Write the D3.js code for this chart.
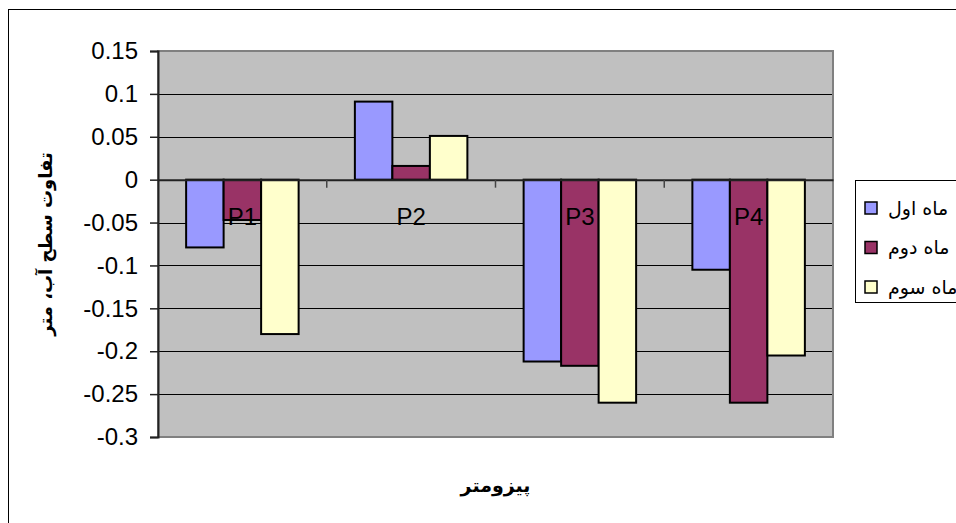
<!DOCTYPE html>
<html>
<head>
<meta charset="utf-8">
<script src="https://cdn.jsdelivr.net/npm/d3@7"></script>
<style>
  html, body { margin: 0; padding: 0; background: #fff; }
  svg { display: block; }
  text { font-family: "Liberation Sans", Arial, "DejaVu Sans", sans-serif; }
</style>
</head>
<body>
<svg id="chart" width="956" height="523"></svg>
<script>
// Piezometer categories and monthly water-level differences (m)
const categories = ["P1", "P2", "P3", "P4"];
const seriesNames = ["ماه اول", "ماه دوم", "ماه سوم"];
const month1 = [-0.079, 0.091, -0.212, -0.105];
const month2 = [-0.047, 0.016, -0.217, -0.26];
const month3 = [-0.18, 0.051, -0.26, -0.205];
const yTicks = [0.15, 0.1, 0.05, 0, -0.05, -0.1, -0.15, -0.2, -0.25, -0.3];
const yTitle = "تفاوت سطح آب، متر";
const xTitle = "پیزومتر";

const seriesValues = [month1, month2, month3];
const colors = ["#9999FF", "#993366", "#FFFFCC"];

const svg = d3.select("#chart");

// Outer chart frame
svg.append("rect")
  .attr("x", 8.5).attr("y", 9.5)
  .attr("width", 1000).attr("height", 1000)
  .attr("fill", "#fff").attr("stroke", "#000").attr("stroke-width", 1);

const plot = { left: 158, top: 51, right: 833, bottom: 437 };

const y = d3.scaleLinear().domain([-0.3, 0.15]).range([plot.bottom, plot.top]);
const x0 = d3.scaleBand().domain(categories).range([plot.left, plot.right]).paddingInner(0).paddingOuter(0);
// bar width : gap = 1 : 1.5  -> 3 bars take 3/4.5 of the band
const groupPad = 0.75 / 4.5;
const x1 = d3.scaleBand().domain(d3.range(seriesNames.length))
  .range([x0.bandwidth() * groupPad, x0.bandwidth() * (1 - groupPad)]).padding(0);

// Plot background
svg.append("rect")
  .attr("x", plot.left).attr("y", plot.top)
  .attr("width", plot.right - plot.left).attr("height", plot.bottom - plot.top)
  .attr("fill", "#C0C0C0");

// Horizontal gridlines
svg.append("g")
  .selectAll("line")
  .data(yTicks)
  .join("line")
  .attr("x1", plot.left).attr("x2", plot.right)
  .attr("y1", d => Math.round(y(d)) + 0.5).attr("y2", d => Math.round(y(d)) + 0.5)
  .attr("stroke", "#000").attr("stroke-width", 1);

// Plot area border (grey)
svg.append("rect")
  .attr("x", plot.left).attr("y", plot.top)
  .attr("width", plot.right - plot.left).attr("height", plot.bottom - plot.top)
  .attr("fill", "none").attr("stroke", "#808080").attr("stroke-width", 2);

// Bars
const groups = svg.append("g")
  .selectAll("g")
  .data(categories)
  .join("g")
  .attr("transform", d => `translate(${x0(d)},0)`);

groups.selectAll("rect")
  .data((d, i) => seriesValues.map((s, k) => ({ k, v: s[i] })))
  .join("rect")
  .attr("x", d => x1(d.k))
  .attr("width", x1.bandwidth())
  .attr("y", d => y(Math.max(0, d.v)))
  .attr("height", d => Math.abs(y(d.v) - y(0)))
  .attr("fill", d => colors[d.k])
  .attr("stroke", "#000").attr("stroke-width", 2);

// Value axis
const yAxis = d3.axisLeft(y).tickValues(yTicks).tickSize(8).tickPadding(12)
  .tickFormat(d => String(+d.toFixed(2)));
const ya = svg.append("g").attr("transform", `translate(${plot.left},0)`).call(yAxis);
ya.select(".domain").attr("stroke", "#222").attr("stroke-width", 2);
ya.selectAll(".tick line").attr("stroke", "#222").attr("stroke-width", 1.5);
ya.selectAll(".tick text")
  .attr("font-size", 24).attr("fill", "#000")
  .style("font-family", "'Liberation Sans', Arial, sans-serif");

// Category axis along zero
const xAxis = d3.axisBottom(x0).tickSize(0);
const xa = svg.append("g").attr("transform", `translate(0,${y(0)})`).call(xAxis);
xa.select(".domain").attr("stroke", "#222").attr("stroke-width", 2);
xa.selectAll(".tick text")
  .attr("y", 45).attr("dy", 0)
  .attr("font-size", 24).attr("fill", "#000")
  .style("font-family", "'Liberation Sans', Arial, sans-serif");

// Tick marks between categories
svg.append("g")
  .selectAll("line")
  .data(categories.slice(1))
  .join("line")
  .attr("x1", d => x0(d)).attr("x2", d => x0(d))
  .attr("y1", y(0)).attr("y2", y(0) + 8)
  .attr("stroke", "#444").attr("stroke-width", 1.5);

// Axis titles
svg.append("text")
  .attr("transform", `translate(52,${(plot.top + plot.bottom) / 2}) rotate(-90)`)
  .attr("text-anchor", "middle")
  .attr("font-size", 18).attr("font-weight", "bold")
  .style("font-family", "'DejaVu Sans', sans-serif")
  .text(yTitle);

svg.append("text")
  .attr("x", (plot.left + plot.right) / 2).attr("y", 492)
  .attr("text-anchor", "middle")
  .attr("font-size", 19).attr("font-weight", "bold")
  .style("font-family", "'DejaVu Sans', sans-serif")
  .text(xTitle);

// Legend
const legend = svg.append("g");
legend.append("rect")
  .attr("x", 855.5).attr("y", 180.5).attr("width", 200).attr("height", 122)
  .attr("fill", "#fff").attr("stroke", "#000").attr("stroke-width", 1);

const items = legend.selectAll("g.item")
  .data(seriesNames)
  .join("g").attr("class", "item")
  .attr("transform", (d, i) => `translate(0,${208 + i * 39.5})`);

items.append("rect")
  .attr("x", 865).attr("y", -6).attr("width", 12).attr("height", 12)
  .attr("fill", (d, i) => colors[i]).attr("stroke", "#000").attr("stroke-width", 1.5);

items.append("text")
  .attr("x", 888).attr("y", 0).attr("dy", "0.35em")
  .attr("font-size", 19)
  .style("font-family", "'DejaVu Sans', sans-serif")
  .text(d => d);
</script>
</body>
</html>
